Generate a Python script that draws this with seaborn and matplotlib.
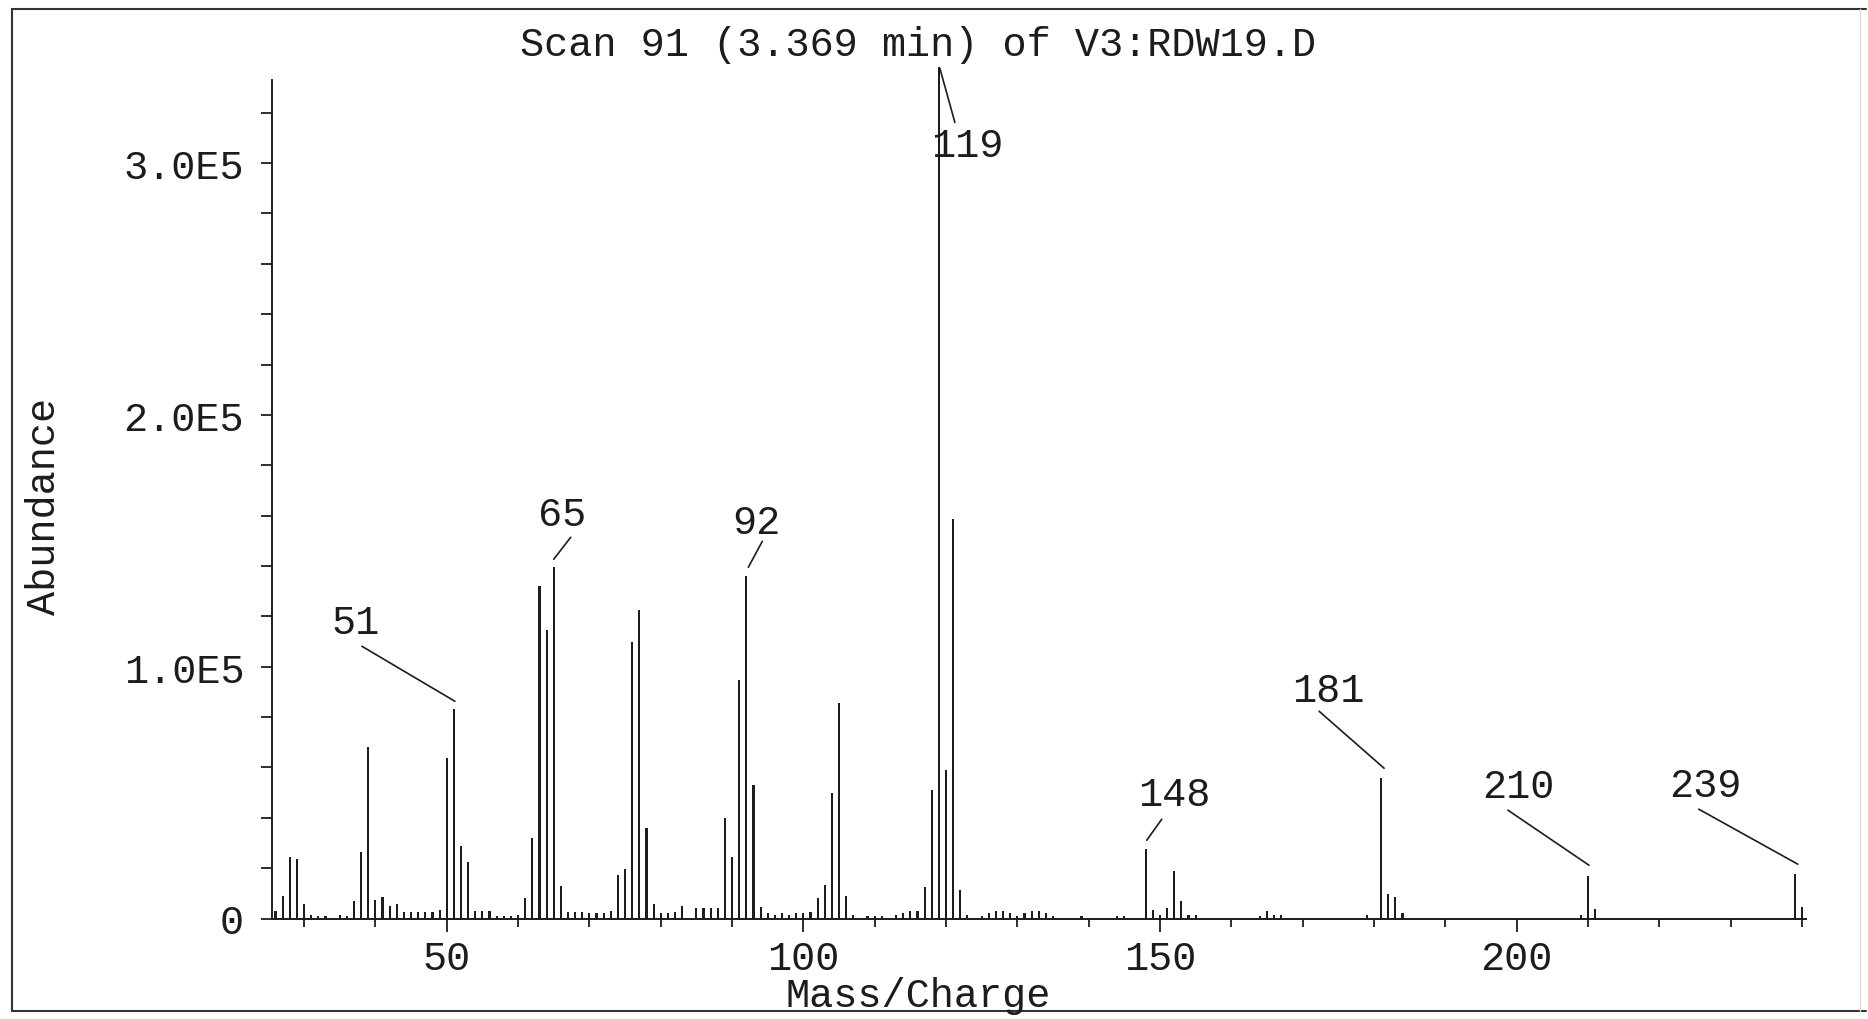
import numpy as np
import matplotlib
matplotlib.use("Agg")
import matplotlib.pyplot as plt
import seaborn as sns
import pandas as pd
from matplotlib.text import OffsetFrom
from matplotlib.ticker import FixedLocator, FuncFormatter
from matplotlib.lines import Line2D

# 数据: 质荷比与丰度
mz = [26, 27, 28, 29, 30, 31, 32, 33, 35, 36, 37, 38, 39, 40, 41, 42, 43, 44, 45, 46,
      47, 48, 49, 50, 51, 52, 53, 54, 55, 56, 57, 58, 59, 60, 61, 62, 63, 64, 65, 66,
      67, 68, 69, 70, 71, 72, 73, 74, 75, 76, 77, 78, 79, 80, 81, 82, 83, 85, 86, 87,
      88, 89, 90, 91, 92, 93, 94, 95, 96, 97, 98, 99, 100, 101, 102, 103, 104, 105, 106, 107,
      109, 110, 111, 113, 114, 115, 116, 117, 118, 119, 120, 121, 122, 123, 125, 126, 127, 128, 129, 130,
      131, 132, 133, 134, 135, 139, 144, 145, 148, 149, 150, 151, 152, 153, 154, 155, 164, 165, 166, 167,
      179, 181, 182, 183, 184, 209, 210, 211, 239, 240]
abundance = [2900, 8900, 24500, 23500, 5600, 1500, 800, 800, 1500, 1000, 6900, 26500, 68300, 7500, 8600, 5000, 5600, 2600, 2600, 2600,
             2600, 2600, 3200, 63600, 83100, 28800, 22500, 3000, 3000, 3000, 1000, 1000, 1000, 1200, 8000, 31800, 131900, 114400, 139500, 13000,
             2500, 2500, 2500, 2000, 2000, 2000, 3000, 17200, 19500, 109800, 122600, 35800, 5600, 2000, 2000, 2500, 5000, 4000, 4000, 4000,
             4000, 40000, 24500, 94800, 135900, 53000, 4600, 2000, 1500, 2000, 1500, 2000, 2000, 2500, 8200, 13500, 49700, 85500, 9000, 1500,
             1000, 1000, 1000, 1500, 2000, 3000, 2800, 12700, 51000, 338000, 58900, 158800, 11200, 1500, 1000, 2000, 3000, 3000, 2000, 800,
             2000, 3000, 3000, 2000, 1000, 800, 1000, 1000, 27500, 3300, 1500, 4300, 18800, 7000, 1500, 1500, 1000, 3000, 1500, 1500,
             1500, 55700, 9900, 8600, 2000, 1500, 16800, 3600, 17600, 4400]

# 标注的峰
label_mz = [51, 65, 92, 119, 148, 181, 210, 239]

x_ticks = [50, 100, 150, 200]
y_ticks = [0, 100000, 200000, 300000]

title = "Scan 91 (3.369 min) of V3:RDW19.D"
x_title = "Mass/Charge"
y_title = "Abundance"

# 标注的偏移 (像素): 文字中心, 引线起点, 引线终点
text_off = [(-98, 87), (8, 53), (10, 54), (28, -78), (29, 55), (-53, 88), (-70, 90), (-89, 89)]
line_start = [(-92, 63), (17, 30), (16, 35), (1, -1), (16, 30), (-62, 67), (-80, 66), (-96, 65)]
line_end = [(1, 8), (0, 8), (2, 9), (16, -55), (1, 9), (3, 10), (1, 11), (3, 10)]

sns.set_theme(style="ticks")
plt.rcParams['font.family'] = ['Liberation Mono', 'DejaVu Sans Mono']
ink = "#1c1c1c"
fs = 29

W, H = 1868, 1020
fig = plt.figure(figsize=(W / 100, H / 100), dpi=100)
fig.patch.set_facecolor("white")

x0, x1 = 272, 1805.5
y0, y1 = 919.5, 63.4
ax = fig.add_axes([x0 / W, 1 - y0 / H, (x1 - x0) / W, (y0 - y1) / H])
ax.set_facecolor("white")

df = pd.DataFrame({"mz": mz, "abundance": abundance})
sns.barplot(data=df, x="mz", y="abundance", native_scale=True, width=0.3,
            color=ink, linewidth=0, saturation=1, ax=ax)

ax.set_xlim(25.5, 240.5)
ax.set_ylim(0, 340000)
ax.set_xlabel("")
ax.set_ylabel("")

sns.despine(ax=ax)
for s in ["left", "bottom"]:
    ax.spines[s].set_color(ink)
    ax.spines[s].set_linewidth(1.4)
ax.spines["left"].set_bounds(0, 333000)

ax.xaxis.set_major_locator(FixedLocator(x_ticks))
ax.xaxis.set_minor_locator(FixedLocator(np.arange(30, 241, 10)))
ax.yaxis.set_major_locator(FixedLocator(y_ticks))
ax.yaxis.set_minor_locator(FixedLocator(np.arange(0, 330000, 20000)))
ax.xaxis.set_major_formatter(FuncFormatter(lambda v, p: f"{v:.0f}"))
ax.yaxis.set_major_formatter(FuncFormatter(lambda v, p: "0" if v == 0 else f"{v / 1e5:.1f}E5"))

ax.tick_params(axis="x", which="major", length=9, width=1.3, color=ink, pad=6,
               labelsize=fs, labelcolor=ink, direction="out")
ax.tick_params(axis="x", which="minor", length=5.5, width=1.3, color=ink, direction="out")
ax.tick_params(axis="y", which="both", length=8, width=1.3, color=ink, pad=12,
               labelsize=fs, labelcolor=ink, direction="out")

# 峰标注
lookup = dict(zip(mz, abundance))
for m, t, a, b in zip(label_mz, text_off, line_start, line_end):
    ref = OffsetFrom(ax.transData, (m, lookup[m]), unit="pixels")
    ax.annotate("", xy=b, xycoords=ref, xytext=a, textcoords=ref,
                arrowprops=dict(arrowstyle="-", shrinkA=0, shrinkB=0, lw=1.2, color=ink))
    ax.annotate(str(m), xy=t, xycoords=ref, ha="center", va="center",
                fontsize=fs, color=ink)

# 标题和轴标题
fig.text(918 / W, 1 - 45 / H, title, ha="center", va="center", fontsize=fs, color=ink)
fig.text(918 / W, 1 - 996 / H, x_title, ha="center", va="center", fontsize=fs, color=ink)
fig.text(44 / W, 1 - 506 / H, y_title, ha="center", va="center", rotation=90,
         fontsize=fs, color=ink)

# 外框
fx = lambda px: px / W
fy = lambda py: 1 - py / H
fig.add_artist(Line2D([fx(12), fx(12)], [fy(10), fy(1012)], color="#333333", lw=1.5))
fig.add_artist(Line2D([fx(12), fx(1866)], [fy(10), fy(10)], color="#333333", lw=1.5))
fig.add_artist(Line2D([fx(12), fx(1866)], [fy(1012), fy(1012)], color="#333333", lw=1.5))
fig.add_artist(Line2D([fx(1860), fx(1860)], [fy(10), fy(1012)], color="#dddddd", lw=1.0))

plt.savefig("out.png", dpi=100, facecolor="white")
plt.close()
